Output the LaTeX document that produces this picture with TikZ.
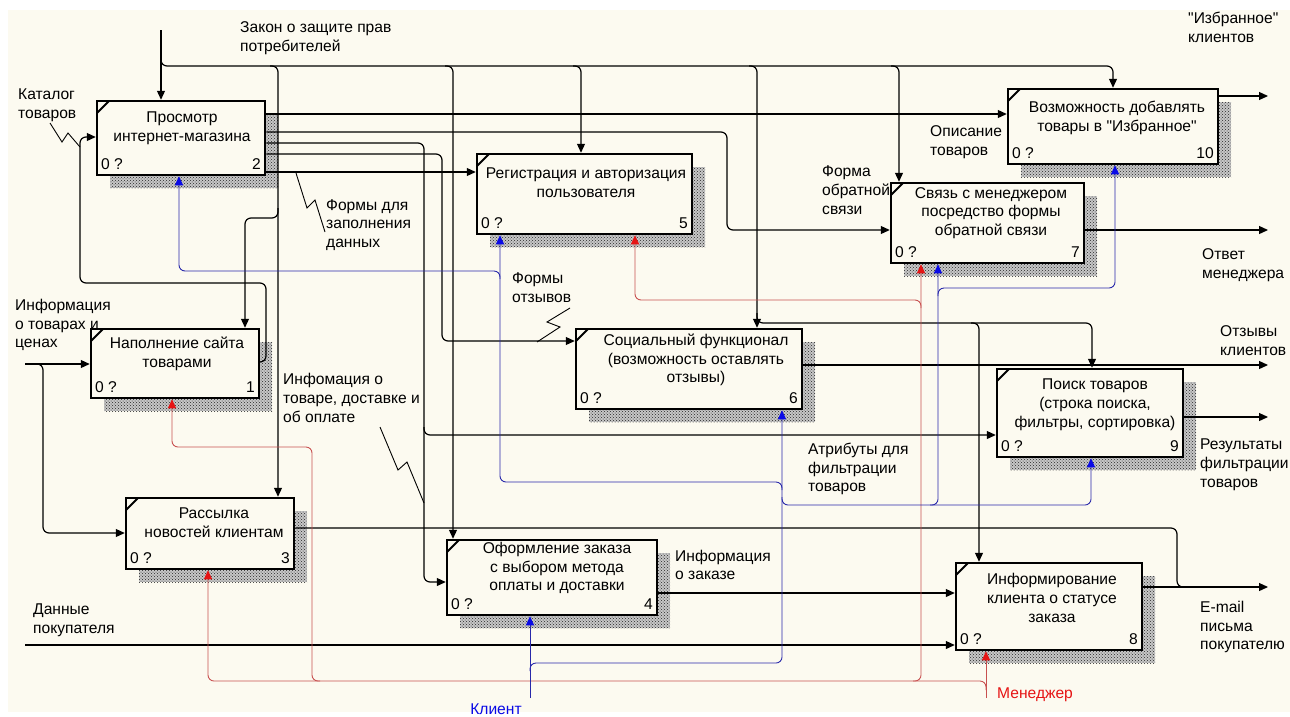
\documentclass[tikz,border=0pt]{standalone}
\usepackage{fontspec}
\setmainfont{Liberation Sans}[Ligatures=TeXOff]
\usetikzlibrary{arrows.meta,patterns}
\definecolor{bgc}{RGB}{252,250,240}
\definecolor{blu}{RGB}{40,40,170}
\definecolor{bluA}{RGB}{10,10,230}
\definecolor{rd}{RGB}{200,80,80}
\definecolor{rdA}{RGB}{230,20,20}
\newcommand\ibox[6]{%
  \fill[black!22] ({#2+13},{#3+13}) rectangle ({#4+13},{#5+13});
  \fill[pattern=crosshatch dots, pattern color=black!85] ({#2+13},{#3+13}) rectangle ({#4+13},{#5+13});
  \node[draw, line width=2.5pt, fill=bgc, inner sep=0pt, minimum width={(#4-#2)*1pt}, minimum height={(#5-#3)*1pt}] (#1) at ({(#2+#4)/2},{(#3+#5)/2}) {};
  \draw[line width=2pt] ({#2},{#3+12}) -- ({#2+12},{#3});
  \node[anchor=west, inner sep=0pt] (#1z) at ({#2+4},{#5-11}) {0 ?};
  \node[anchor=east, inner sep=0pt] (#1n) at ({#4-4},{#5-11}) {#6};
}
\begin{document}
\begin{tikzpicture}[x=1pt, y=-1pt,
  font=\fontsize{15.6}{18.8}\selectfont,
  rc/.style={rounded corners=6pt},
  line/.style={line width=1.2pt},
  conn/.style={line width=1.2pt, -{Triangle[length=9pt,width=8pt]}},
  rconn/.style={line width=0.9pt, draw=rd, -{Triangle[length=9pt,width=8pt,fill=rdA,color=rdA]}},
  bconn/.style={line width=0.9pt, draw=blu, -{Triangle[length=9pt,width=8pt,fill=bluA,color=bluA]}},
  lbl/.style={anchor=west, align=left, inner sep=0pt},
  btxt/.style={align=center, inner sep=0pt}]
\useasboundingbox (0,0) rectangle (1290,716);
\fill[white] (0,0) rectangle (1290,716);
\fill[bgc] (8,10) rectangle (1290,712);

% boxes
\ibox{b2}{97}{101}{265}{175}{2}
\ibox{b5}{477}{154}{692}{234}{5}
\ibox{b10}{1008}{89}{1218}{164}{10}
\ibox{b7}{891}{183}{1084}{263}{7}
\ibox{b1}{91}{329}{259}{398}{1}
\ibox{b6}{576}{329}{802}{409}{6}
\ibox{b9}{997}{369}{1183}{457}{9}
\ibox{b3}{126}{498}{294}{569}{3}
\ibox{b4}{447}{540}{657}{615}{4}
\ibox{b8}{956}{563}{1142}{650}{8}

\node[btxt] (t2) at (182,128.5) {Просмотр\\интернет-магазина};
\node[btxt] (t5) at (586,183) {Регистрация и авторизация\\пользователя};
\node[btxt] (t10) at (1117,117.5) {Возможность добавлять\\товары в "Избранное"};
\node[btxt] (t7) at (991,213) {Связь с менеджером\\посредство формы\\обратной связи};
\node[btxt] (t1) at (177,354) {Наполнение сайта\\товарами};
\node[btxt] (t6) at (696,360) {Социальный функционал\\(возможность оставлять\\отзывы)};
\node[btxt] (t9) at (1095,404.5) {Поиск товаров\\(строка поиска,\\фильтры, сортировка)};
\node[btxt] (t3) at (214,523) {Рассылка\\новостей клиентам};
\node[btxt] (t4) at (557,568) {Оформление заказа\\с выбором метода\\оплаты и доставки};
\node[btxt] (t8) at (1052,598) {Информирование\\клиента о статусе\\заказа};

% control: Закон
\coordinate (zakon) at (161,30);
\draw[conn] (zakon) -- (b2.north -| 161,0);
\draw[conn, rc] (161,52) -- (161,66) -- (1113,66) -- (b10.north -| 1113,0);
\draw[conn, rc] (270,66) -- (278,66) -- (b3.north -| 278,0);
\draw[conn, rc] (278,208) -- (278,218) -- (245,218) -- (b1.north -| 245,0);
\draw[conn, rc] (445,66) -- (453,66) -- (b4.north -| 453,0);
\draw[conn, rc] (573,66) -- (581,66) -- (b5.north -| 581,0);
\draw[conn, rc] (749,66) -- (757,66) -- (b6.north -| 757,0);
\draw[conn, rc] (891,66) -- (899,66) -- (b7.north -| 899,0);
\draw[conn, rc] (757,313) -- (757,323) -- (1092,323) -- (b9.north -| 1092,0);
\draw[conn, rc] (971,323) -- (979,323) -- (b8.north -| 979,0);

% outputs of box 2
\draw[conn] (b2.east |- 0,114) -- (b10.west |- 0,114);
\draw[conn, rc] (b2.east |- 0,132) -- (727,132) -- (727,230) -- (b7.west |- 0,230);
\draw[conn, rc] (b2.east |- 0,143) -- (424,143) -- (424,582) -- (b4.west |- 0,582);
\draw[conn, rc] (424,427) -- (424,435) -- (b9.west |- 0,435);
\draw[conn, rc] (b2.east |- 0,154) -- (442,154) -- (442,341) -- (b6.west |- 0,341);
\draw[conn] (b2.east |- 0,172) -- (b5.west |- 0,172);

% Каталог
\draw[conn, rc] (b1.east |- 0,362) -- (266,362) -- (266,283) -- (80,283) -- (80,137) -- (b2.west |- 0,137);

% Информация о товарах и ценах
\coordinate (infin) at (25,364);
\draw[conn] (infin) -- (b1.west |- 0,364);
\draw[conn, rc] (35,364) -- (43,364) -- (43,533) -- (b3.west |- 0,533);

% outputs
\coordinate (oIzb) at (1268,96);
\draw[conn] (b10.east |- 0,96) -- (oIzb);
\coordinate (oOtv) at (1268,230);
\draw[conn] (b7.east |- 0,230) -- (oOtv);
\coordinate (oOtz) at (1268,365);
\draw[conn] (b6.east |- 0,365) -- (oOtz);
\coordinate (oRez) at (1268,417);
\draw[conn] (b9.east |- 0,417) -- (oRez);
\coordinate (oEm) at (1268,587);
\draw[conn] (b8.east |- 0,587) -- (oEm);
\draw[line, rc] (b3.east |- 0,528) -- (1177,528) -- (1177,587) -- (1195,587);
\draw[conn] (b4.east |- 0,593) -- (b8.west |- 0,593);
\coordinate (dan) at (25,645);
\draw[conn] (dan) -- (b8.west |- 0,645);

% Менеджер (red)
\coordinate (men) at (986,698);
\draw[rconn] (men) -- (b8.south -| 986,0);
\draw[rconn, rc] (986,690) -- (986,681) -- (208,681) -- (b3.south -| 208,0);
\draw[rconn, rc] (320,681) -- (312,681) -- (312,447) -- (172,447) -- (b1.south -| 172,0);
\draw[rconn, rc] (913,681) -- (921,681) -- (b7.south -| 921,0);
\draw[rconn, rc] (921,308) -- (921,300) -- (635,300) -- (b5.south -| 635,0);

% Клиент (blue)
\coordinate (kli) at (530,698);
\draw[bconn] (kli) -- (b4.south -| 530,0);
\draw[bconn, rc] (530,671) -- (530,663) -- (782,663) -- (b6.south -| 782,0);
\draw[bconn, rc] (782,490) -- (782,482) -- (500,482) -- (b5.south -| 500,0);
\draw[bconn, rc] (500,279) -- (500,271) -- (179,271) -- (b2.south -| 179,0);
\draw[bconn, rc] (782,497) -- (782,505) -- (1091,505) -- (b9.south -| 1091,0);
\draw[bconn, rc] (930,505) -- (938,505) -- (b7.south -| 938,0);
\draw[bconn, rc] (938,296) -- (938,288) -- (1115,288) -- (b10.south -| 1115,0);

% squiggles
\draw[line width=0.9pt] (50,123) -- (62,142) -- (68,133) -- (80,147);
\draw[line width=0.9pt] (296,173) -- (307,208) -- (315,200) -- (325,232);
\draw[line width=0.9pt] (570,308) -- (547,322) -- (560,327) -- (537,342);
\draw[line width=0.9pt] (380,427) -- (398,470) -- (407,462) -- (424,503);

% labels
\node[lbl] (l1) at (240,38.5) {Закон о защите прав\\потребителей};
\node[lbl] (l2) at (18,105) {Каталог\\товаров};
\node[lbl] (l3) at (1188,27) {"Избранное"\\клиентов};
\node[lbl] (l4) at (930,142) {Описание\\товаров};
\node[lbl] (l5) at (822,190) {Форма\\обратной\\связи};
\node[lbl] (l6) at (1202,265) {Ответ\\менеджера};
\node[lbl] (l7) at (326,225) {Формы для\\заполнения\\данных};
\node[lbl] (l8) at (512,288) {Формы\\отзывов};
\node[lbl] (l9) at (15,325) {Информация\\о товарах и\\ценах};
\node[lbl] (l10) at (1220,341) {Отзывы\\клиентов};
\node[lbl] (l11) at (283,398) {Инфомация о\\товаре, доставке и\\об оплате};
\node[lbl] (l12) at (808,469) {Атрибуты для\\фильтрации\\товаров};
\node[lbl] (l13) at (1200,465) {Результаты\\фильтрации\\товаров};
\node[lbl] (l14) at (675,565) {Информация\\о заказе};
\node[lbl] (l15) at (33,620) {Данные\\покупателя};
\node[lbl] (l16) at (1200,627) {E-mail\\письма\\покупателю};
\node[inner sep=0pt, text=bluA] (l17) at (496,709) {Клиент};
\node[lbl, text=rdA] (l18) at (997,695) {Менеджер};
\end{tikzpicture}
\end{document}
